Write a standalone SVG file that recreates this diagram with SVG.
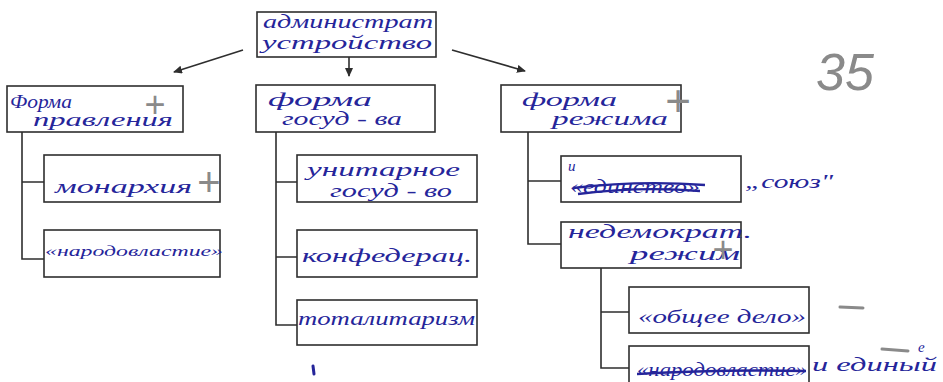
<svg xmlns="http://www.w3.org/2000/svg" width="943" height="382" viewBox="0 0 943 382">
<style>
.box{fill:#fff;stroke:#2e2e2e;stroke-width:1.6}
.ln{fill:none;stroke:#2e2e2e;stroke-width:1.6}
.t{font-family:"Liberation Serif","DejaVu Serif",serif;font-style:italic;fill:#25259a;font-size:18px}
.s{font-size:15px}
.g{font-family:"Liberation Sans","DejaVu Sans",sans-serif;fill:#8a8a8a}
.strike{stroke:#25259a;stroke-width:2.4;fill:none}
.pen{stroke:#8a8a8a;stroke-width:3;stroke-linecap:round;fill:none}
</style>
<defs>
<marker id="ah" markerWidth="10" markerHeight="10" refX="8" refY="4" orient="auto" markerUnits="userSpaceOnUse">
<path d="M0,0 L9,4 L0,8 Z" fill="#2e2e2e"/>
</marker>
</defs>
<rect width="943" height="382" fill="#fff"/>
<g id="connectors">
<path class="ln" d="M243,50 L174,72" marker-end="url(#ah)"/>
<path class="ln" d="M349,57 L349,76" marker-end="url(#ah)"/>
<path class="ln" d="M452,50 L525,71" marker-end="url(#ah)"/>
<path class="ln" d="M22,132 V259 H44 M22,182 H44"/>
<path class="ln" d="M276,132 V325 H297 M276,182 H297 M276,257 H297"/>
<path class="ln" d="M528,132 V244 H561 M528,181 H561"/>
<path class="ln" d="M601,268 V368 H629 M601,312 H629"/>
</g>
<g id="root">
<rect class="box" x="257" y="12" width="179" height="45"/>
<text class="t" x="263" y="28" textLength="170" lengthAdjust="spacingAndGlyphs">администрат</text>
<text class="t" x="262" y="49" textLength="170" lengthAdjust="spacingAndGlyphs">устройство</text>
</g>
<g id="forma-pravleniya">
<rect class="box" x="7" y="86" width="176" height="46"/>
<text class="t" x="10" y="108" font-size="16" textLength="62" lengthAdjust="spacingAndGlyphs">Форма</text>
<text class="t" x="33" y="126" textLength="140" lengthAdjust="spacingAndGlyphs">правления</text>
</g>
<g id="forma-gos">
<rect class="box" x="256" y="85" width="179" height="47"/>
<text class="t" x="268" y="106" textLength="104" lengthAdjust="spacingAndGlyphs">форма</text>
<text class="t" x="282" y="125" textLength="120" lengthAdjust="spacingAndGlyphs">госуд - ва</text>
</g>
<g id="forma-rezhima">
<rect class="box" x="501" y="85" width="180" height="47"/>
<text class="t" x="522" y="106" textLength="95" lengthAdjust="spacingAndGlyphs">форма</text>
<text class="t" x="552" y="125" textLength="116" lengthAdjust="spacingAndGlyphs">режима</text>
</g>
<g id="monarkhiya">
<rect class="box" x="44" y="155" width="176" height="47"/>
<text class="t" x="55" y="193" textLength="137" lengthAdjust="spacingAndGlyphs">монархия</text>
</g>
<g id="narodovlastie">
<rect class="box" x="44" y="230" width="176" height="47"/>
<text class="t s" x="45" y="256" textLength="178" lengthAdjust="spacingAndGlyphs">«народовластие»</text>
</g>
<g id="unitarnoe">
<rect class="box" x="297" y="155" width="180" height="47"/>
<text class="t" x="307" y="176" textLength="153" lengthAdjust="spacingAndGlyphs">унитарное</text>
<text class="t" x="330" y="197" textLength="122" lengthAdjust="spacingAndGlyphs">госуд - во</text>
</g>
<g id="konfederats">
<rect class="box" x="297" y="230" width="180" height="47"/>
<text class="t" x="302" y="262" textLength="170" lengthAdjust="spacingAndGlyphs">конфедерац.</text>
</g>
<g id="totalitarizm">
<rect class="box" x="297" y="300" width="180" height="45"/>
<text class="t" x="298" y="325" textLength="177" lengthAdjust="spacingAndGlyphs">тоталитаризм</text>
</g>
<g id="soyuz">
<rect class="box" x="561" y="156" width="180" height="46"/>
<text class="t s" x="568" y="171">и</text>
<text class="t" x="570" y="193" textLength="130" lengthAdjust="spacingAndGlyphs">«единство»</text>
<path class="strike" d="M573,188 Q640,180 705,185 M578,194 Q640,186 700,191"/>
<text class="t" x="745" y="188" textLength="88" lengthAdjust="spacingAndGlyphs">„союз"</text>
</g>
<g id="nedemokrat">
<rect class="box" x="561" y="222" width="180" height="46"/>
<text class="t" x="568" y="238" textLength="184" lengthAdjust="spacingAndGlyphs">недемократ.</text>
<text class="t" x="630" y="260" textLength="110" lengthAdjust="spacingAndGlyphs">режим</text>
</g>
<g id="obshchee-delo">
<rect class="box" x="629" y="287" width="180" height="46"/>
<text class="t" x="638" y="323" textLength="168" lengthAdjust="spacingAndGlyphs">«общее дело»</text>
</g>
<g id="narodovlastie-2">
<rect class="box" x="629" y="346" width="180" height="50"/>
<text class="t" x="637" y="376" textLength="170" lengthAdjust="spacingAndGlyphs">«народовластие»</text>
<path class="strike" d="M637,374 Q720,369 806,371" stroke-width="3.2"/>
<text class="t" x="812" y="371" textLength="125" lengthAdjust="spacingAndGlyphs">и единый</text>
<text class="t s" x="918" y="352">е</text>
</g>
<g id="marks">
<text class="g" x="155" y="117" font-size="36" text-anchor="middle">+</text>
<text class="g" x="678" y="116" font-size="44" text-anchor="middle">+</text>
<text class="g" x="209" y="196" font-size="40" text-anchor="middle">+</text>
<text class="g" x="723" y="262" font-size="36" text-anchor="middle">+</text>
<text class="g" x="845" y="90" font-size="52" font-style="italic" text-anchor="middle">35</text>
<path class="pen" d="M840,307 L863,308"/>
<path class="pen" d="M882,349 L908,351"/>
<path d="M313,366 L314,374" stroke="#25259a" stroke-width="3" stroke-linecap="round"/>
</g>
</svg>
